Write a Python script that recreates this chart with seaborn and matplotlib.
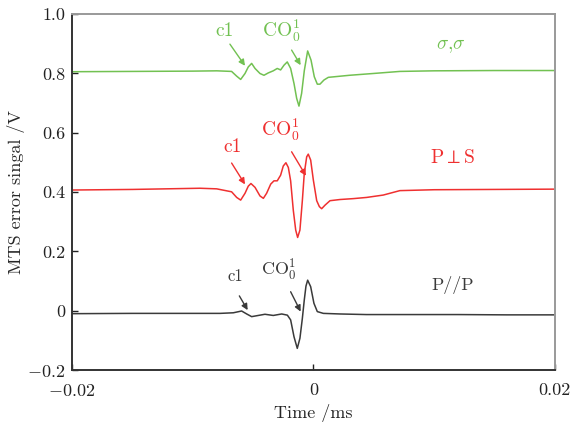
import matplotlib
matplotlib.use("Agg")
import matplotlib.pyplot as plt
import seaborn as sns
import pandas as pd

# krivulje ocitane sa slike (vrijeme u ms, signal u V)
x_sigma = [-0.02, -0.015, -0.01, -0.008, -0.00678, -0.00636, -0.00603, -0.00567, -0.0054, -0.00512,
           -0.00484, -0.00443, -0.0041, -0.00374, -0.00333, -0.003, -0.00272, -0.00244, -0.00217,
           -0.00189, -0.00161, -0.00139, -0.0012, -0.00098, -0.00076, -0.00048, -0.0002, 0.00007,
           0.00032, 0.00054, 0.00087, 0.00123, 0.003, 0.00495, 0.00716, 0.01, 0.015, 0.02]
y_sigma = [0.806, 0.807, 0.808, 0.809, 0.807, 0.791, 0.780, 0.800, 0.822, 0.834,
           0.817, 0.800, 0.794, 0.802, 0.809, 0.817, 0.812, 0.828, 0.839,
           0.817, 0.766, 0.716, 0.690, 0.733, 0.809, 0.876, 0.845, 0.789,
           0.764, 0.764, 0.778, 0.787, 0.794, 0.800, 0.807, 0.809, 0.810, 0.810]

x_perp = [-0.02, -0.015, -0.0094, -0.00802, -0.00678, -0.00636, -0.00603, -0.00567, -0.0054, -0.00518,
          -0.00484, -0.00443, -0.00415, -0.00388, -0.00354, -0.00327, -0.003, -0.00272, -0.0025,
          -0.00228, -0.00208, -0.00189, -0.00167, -0.00147, -0.00131, -0.00112, -0.00092, -0.00076,
          -0.00056, -0.00043, -0.00023, -0.00001, 0.00027, 0.00049, 0.00068, 0.00096, 0.00137,
          0.0022, 0.0033, 0.0044, 0.00578, 0.00716, 0.01, 0.015, 0.02]
y_perp = [0.407, 0.409, 0.413, 0.411, 0.401, 0.382, 0.373, 0.396, 0.420, 0.429,
          0.416, 0.387, 0.379, 0.396, 0.427, 0.438, 0.438, 0.457, 0.488,
          0.499, 0.483, 0.438, 0.339, 0.272, 0.247, 0.272, 0.371, 0.463,
          0.519, 0.528, 0.508, 0.441, 0.371, 0.351, 0.344, 0.356, 0.371,
          0.375, 0.378, 0.382, 0.390, 0.405, 0.408, 0.409, 0.410]

x_par = [-0.02, -0.015, -0.0094, -0.00774, -0.00664, -0.00595, -0.00553, -0.00512, -0.00457, -0.00402,
         -0.00333, -0.00263, -0.00216, -0.00189, -0.00161, -0.00134, -0.00112, -0.00092, -0.00076,
         -0.00062, -0.00048, -0.00023, 0.00004, 0.00032, 0.00082, 0.0022, 0.0044, 0.00716, 0.012,
         0.016, 0.02]
y_par = [-0.010, -0.009, -0.009, -0.009, -0.007, -0.001, -0.011, -0.020, -0.016, -0.012,
         -0.016, -0.011, -0.015, -0.031, -0.088, -0.127, -0.093, -0.026, 0.036,
         0.083, 0.103, 0.081, 0.025, -0.003, -0.009, -0.011, -0.013, -0.013, -0.013,
         -0.014, -0.014]

oznake = ['$\\sigma$,$\\sigma$', 'P$\\perp$S', 'P//P']
boje = ['#72c152', '#ef3030', '#3a3a3a']

sns.set_style('ticks')
plt.rcParams['font.family'] = ['cmr10', 'DejaVu Serif']
plt.rcParams['mathtext.fontset'] = 'cm'
plt.rcParams['axes.formatter.use_mathtext'] = True

fig = plt.figure(figsize=(5.81, 4.30), dpi=100)
ax = fig.add_axes([0.124, 0.1395, 0.831, 0.8275])

df = pd.concat([
    pd.DataFrame({'t': x_sigma, 'v': y_sigma, 'krivulja': oznake[0]}),
    pd.DataFrame({'t': x_perp, 'v': y_perp, 'krivulja': oznake[1]}),
    pd.DataFrame({'t': x_par, 'v': y_par, 'krivulja': oznake[2]}),
])

sns.lineplot(data=df, x='t', y='v', hue='krivulja', palette=boje, linewidth=1.1,
             sort=False, estimator=None, legend=False, ax=ax)

ax.set_xlim(-0.02, 0.02)
ax.set_ylim(-0.2, 1.0)
ax.set_xticks([-0.02, 0, 0.02])
ax.set_xticklabels(['$-$0.02', '0', '0.02'])
ax.set_yticks([-0.2, 0, 0.2, 0.4, 0.6, 0.8, 1.0])
ax.set_yticklabels(['$-$0.2', '0', '0.2', '0.4', '0.6', '0.8', '1.0'])
ax.tick_params(direction='in', length=4, width=1, labelsize=13, colors='#222222')
ax.tick_params(axis='x', pad=9)
ax.tick_params(axis='y', pad=5)
for s in ['left', 'bottom']:
    ax.spines[s].set_color('#333333')
    ax.spines[s].set_linewidth(1.4)
for s in ['top', 'right']:
    ax.spines[s].set_color('#999999')
    ax.spines[s].set_linewidth(1.4)

ax.set_xlabel('Time /ms', fontsize=13)
ax.set_ylabel('MTS error singal /V', fontsize=13)
ax.xaxis.set_label_coords(0.5, -0.096)
ax.yaxis.set_label_coords(-0.097, 0.5)

# strelice i natpisi
def strelica(tekst, pocetak, kraj, pozicija, boja, fs):
    ax.annotate('', xy=kraj, xytext=pocetak,
                arrowprops=dict(arrowstyle='-|>', color=boja, lw=1.0,
                                mutation_scale=9, shrinkA=0, shrinkB=0))
    ax.text(pozicija[0], pozicija[1], tekst, color=boja, fontsize=fs,
            ha='center', va='center')

strelica('c1', (-0.00692, 0.899), (-0.00567, 0.826), (-0.00733, 0.944), boje[0], 14)
strelica('CO$_0^1$', (-0.00181, 0.879), (-0.00106, 0.828), (-0.00269, 0.944), boje[0], 14)
strelica('c1', (-0.00678, 0.498), (-0.00567, 0.426), (-0.00667, 0.552), boje[1], 14)
strelica('CO$_0^1$', (-0.00181, 0.536), (-0.00062, 0.455), (-0.00278, 0.609), boje[1], 14)
strelica('c1', (-0.00614, 0.050), (-0.00545, 0.002), (-0.0065, 0.117), boje[2], 12)
strelica('CO$_0^1$', (-0.00189, 0.064), (-0.00106, -0.003), (-0.00283, 0.135), boje[2], 13)

ax.text(0.01136, 0.892, oznake[0], color=boje[0], fontsize=14, ha='center', va='center')
ax.text(0.01155, 0.515, oznake[1], color=boje[1], fontsize=14, ha='center', va='center')
ax.text(0.01155, 0.087, oznake[2], color=boje[2], fontsize=13, ha='center', va='center')

plt.savefig('out.png')
plt.close()
